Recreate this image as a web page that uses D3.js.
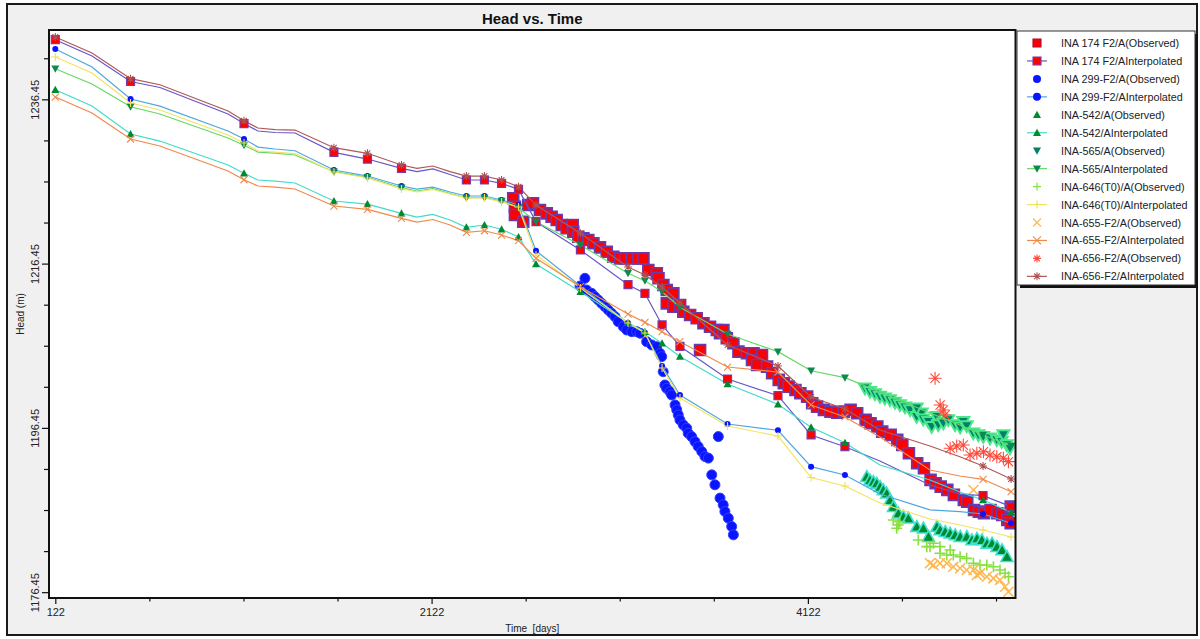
<!DOCTYPE html>
<html>
<head>
<meta charset="utf-8">
<script src="https://cdn.jsdelivr.net/npm/d3@7"></script>
<style>
  body { margin: 0; background: #fff; }
  svg { display: block; }
  text { font-family: Arial, "Liberation Sans", sans-serif; }
</style>
</head>
<body>
<div id="chart"></div>
<script>
// ---- data (days, head in m) ----
const lineDays = [122, 317, 522, 678, 1040, 1125, 1199, 1290, 1396, 1603, 1781, 1962, 2044, 2129, 2220, 2307, 2403, 2494, 2584, 2677, 2913, 3166, 3256, 3347, 3442, 3695, 3963, 4139, 4319, 4505, 4771, 4930, 5053, 5202];
const markerDays = [122, 522, 1125, 1603, 1781, 1962, 2307, 2403, 2494, 2584, 2677, 2913, 3166, 3256, 3347, 3442, 3695, 3963, 4139, 4319, 5053, 5202];

const ina174Interp = [1243.71, 1241.72, 1238.62, 1237.89, 1234.66, 1233.50, 1232.59, 1232.41, 1232.35, 1230.00, 1229.18, 1228.05, 1227.66, 1227.97, 1227.30, 1226.63, 1226.63, 1226.22, 1225.49, 1221.55, 1218.11, 1213.88, 1212.83, 1208.98, 1206.38, 1202.40, 1200.37, 1195.59, 1194.16, 1192.42, 1189.50, 1188.40, 1188.20, 1186.86];
const ina299Interp = [1242.57, 1240.38, 1236.49, 1235.63, 1232.59, 1231.62, 1230.64, 1230.40, 1230.19, 1227.84, 1227.11, 1225.90, 1225.53, 1225.77, 1225.17, 1224.68, 1224.68, 1224.19, 1223.58, 1218.02, 1213.72, 1209.22, 1208.04, 1203.98, 1200.45, 1196.92, 1196.16, 1191.73, 1190.72, 1188.40, 1186.46, 1186.25, 1185.97, 1184.84];
const ina542Interp = [1237.62, 1235.63, 1232.23, 1231.37, 1228.45, 1227.44, 1226.63, 1226.50, 1226.26, 1224.07, 1223.70, 1222.57, 1222.12, 1222.43, 1221.76, 1220.87, 1221.15, 1220.63, 1219.69, 1216.40, 1213.03, 1209.26, 1208.16, 1206.75, 1205.14, 1201.79, 1199.32, 1196.52, 1194.65, 1191.93, 1190.11, 1188.65, 1187.67, 1186.18];
const ina565Interp = [1240.17, 1238.31, 1235.55, 1234.66, 1231.74, 1230.85, 1230.03, 1229.91, 1229.67, 1227.64, 1226.96, 1225.69, 1225.29, 1225.59, 1224.98, 1224.47, 1224.47, 1224.07, 1223.25, 1221.55, 1218.71, 1215.27, 1214.37, 1213.03, 1211.13, 1207.88, 1205.73, 1203.41, 1202.56, 1200.82, 1198.26, 1196.80, 1195.59, 1194.25];
const ina646Interp = [1241.60, 1239.65, 1236.00, 1235.15, 1232.10, 1231.13, 1230.16, 1230.03, 1229.85, 1227.60, 1226.87, 1225.53, 1225.17, 1225.47, 1224.92, 1224.44, 1224.44, 1223.95, 1223.34, 1217.50, 1213.48, 1209.22, 1208.00, 1203.74, 1200.09, 1196.68, 1195.46, 1190.41, 1189.38, 1187.31, 1185.36, 1184.63, 1184.02, 1183.17];
const ina655Interp = [1236.73, 1234.78, 1231.62, 1230.77, 1227.72, 1226.66, 1225.90, 1225.77, 1225.53, 1223.46, 1223.06, 1221.96, 1221.51, 1221.82, 1221.15, 1220.26, 1220.45, 1219.93, 1219.24, 1217.09, 1213.64, 1210.31, 1209.30, 1208.16, 1206.94, 1203.86, 1203.25, 1199.24, 1197.78, 1195.34, 1191.32, 1190.59, 1190.19, 1188.68];
const ina656Interp = [1244.03, 1242.09, 1238.96, 1238.23, 1235.03, 1233.84, 1232.96, 1232.77, 1232.71, 1230.56, 1229.88, 1228.45, 1228.05, 1228.33, 1227.64, 1227.11, 1227.11, 1226.63, 1225.81, 1223.58, 1220.14, 1216.04, 1215.06, 1213.60, 1211.65, 1206.54, 1203.98, 1200.21, 1198.75, 1196.19, 1194.25, 1192.94, 1191.81, 1190.23];

const ina174Obs = [[2556,1224.40],[2565,1223.37],[2565,1222.36],[2609,1221.55],[2636,1223.58],[2661,1223.79],[2698,1222.97],[2734,1222.57],[2760,1222.16],[2787,1221.76],[2814,1221.15],[2840,1220.75],[2872,1221.15],[2875,1220.33],[2902,1219.72],[2929,1219.53],[2955,1219.32],[2982,1218.92],[3017,1218.43],[3053,1217.90],[3088,1217.29],[3124,1217.09],[3151,1217.09],[3186,1217.09],[3221,1217.09],[3248,1217.09],[3274,1215.67],[3319,1215.27],[3328,1214.66],[3354,1213.84],[3372,1213.23],[3407,1212.83],[3372,1211.61],[3407,1211.20],[3443,1211.41],[3460,1210.59],[3496,1210.19],[3531,1209.79],[3549,1205.93],[3567,1209.18],[3602,1208.77],[3638,1208.37],[3655,1207.97],[3673,1208.37],[3691,1207.36],[3726,1206.75],[3753,1205.73],[3798,1205.53],[3833,1205.53],[3878,1205.33],[3825,1204.72],[3852,1204.11],[3905,1203.91],[3932,1203.10],[3967,1202.29],[3994,1201.88],[4020,1201.47],[4056,1201.07],[4082,1200.67],[4118,1200.26],[4145,1199.45],[4171,1199.04],[4207,1198.64],[4242,1198.43],[4278,1198.31],[4313,1198.43],[4349,1198.64],[4384,1198.24],[4429,1197.43],[4455,1197.02],[4491,1196.61],[4517,1196.00],[4562,1195.60],[4597,1194.99],[4624,1194.38],[4659,1193.37],[4703,1192.15],[4739,1191.54],[4774,1190.12],[4801,1189.71],[4828,1189.30],[4863,1188.90],[4898,1188.29],[4951,1187.67],[4969,1187.47],[5005,1186.46],[5031,1186.25],[5058,1186.06],[5093,1186.46],[5129,1186.06],[5155,1185.85],[5182,1185.24],[5200,1184.84],[5200,1186.86]];
const ina299Obs = [[2937,1214.66],[2911,1213.72],[2946,1213.23],[2973,1212.83],[2990,1212.42],[3008,1212.02],[3026,1211.61],[3044,1211.20],[3061,1210.80],[3079,1210.40],[3097,1209.99],[3114,1209.38],[3141,1208.77],[3159,1208.37],[3186,1208.16],[3212,1208.16],[3230,1207.97],[3265,1206.95],[3292,1206.55],[3318,1206.34],[3336,1205.53],[3345,1205.12],[3353,1203.29],[3362,1201.67],[3371,1201.27],[3389,1200.86],[3398,1200.46],[3416,1199.24],[3425,1198.64],[3433,1198.03],[3442,1197.42],[3460,1196.81],[3478,1196.41],[3486,1195.80],[3504,1195.39],[3522,1194.78],[3539,1194.18],[3558,1193.57],[3575,1192.96],[3593,1192.77],[3611,1190.73],[3628,1189.52],[3655,1187.90],[3672,1187.08],[3681,1186.27],[3699,1185.46],[3717,1184.44],[3726,1183.43],[3646,1195.39]];
const ina542Obs = [[4435,1190.51],[4452,1190.11],[4470,1189.90],[4488,1189.70],[4506,1189.29],[4523,1188.89],[4541,1188.49],[4559,1187.67],[4577,1186.86],[4603,1186.06],[4630,1185.64],[4656,1185.45],[4701,1184.43],[4736,1184.23],[4763,1183.21],[4808,1184.43],[4825,1184.03],[4852,1183.82],[4878,1183.62],[4905,1183.42],[4932,1183.21],[4967,1183.21],[4994,1182.81],[5021,1183.01],[5047,1182.81],[5074,1182.40],[5101,1182.40],[5127,1181.99],[5154,1181.59],[5180,1180.77]];
const ina565Obs = [[4425,1201.27],[4452,1200.85],[4478,1200.57],[4505,1200.25],[4531,1200.05],[4558,1199.84],[4585,1199.52],[4611,1199.24],[4638,1198.96],[4665,1198.63],[4700,1197.81],[4727,1198.22],[4700,1198.83],[4735,1197.49],[4762,1197.20],[4780,1196.59],[4806,1197.81],[4815,1196.80],[4842,1197.01],[4868,1197.41],[4904,1196.80],[4931,1196.52],[4948,1197.20],[4966,1196.68],[5001,1195.79],[5028,1195.58],[5054,1195.38],[5090,1195.18],[5126,1194.97],[5152,1194.77],[5161,1195.58],[5179,1194.37],[5196,1193.97]];
const ina646Obs = [[4576,1185.24],[4602,1184.63],[4611,1185.03],[4594,1184.23],[4709,1182.80],[4754,1181.99],[4771,1181.99],[4789,1182.40],[4824,1181.99],[4824,1181.18],[4860,1180.98],[4878,1181.58],[4895,1180.98],[4931,1180.77],[4966,1180.57],[5002,1179.96],[5037,1179.76],[5073,1179.76],[5108,1179.55],[5143,1179.15],[5170,1178.75],[5188,1178.33]];
const ina655Obs = [[4771,1179.97],[4789,1179.76],[4824,1179.97],[4860,1179.97],[4895,1179.55],[4931,1179.36],[4966,1179.15],[5002,1179.15],[5020,1178.54],[5037,1178.74],[5073,1178.33],[5108,1178.13],[5143,1177.93],[5170,1177.11],[5188,1176.50],[5002,1188.89]];
const ina656Obs = [[4798,1202.49],[4825,1199.24],[4842,1198.63],[4851,1198.02],[4878,1193.97],[4913,1194.25],[4948,1194.37],[4984,1193.15],[5020,1193.36],[5055,1193.55],[5090,1193.15],[5126,1192.94],[5161,1192.75],[5188,1192.34]];

const xMajorTicks = [122, 2122, 4122];
const xMinorTicks = [622, 1122, 1622, 2622, 3122, 3622, 4622, 5122];
const yMajorTicks = [1176.45, 1196.45, 1216.45, 1236.45];
const yMinorTicks = [1181.45, 1186.45, 1191.45, 1201.45, 1206.45, 1211.45, 1221.45, 1226.45, 1231.45, 1241.45];

// ---- series styling ----
const series = [
  { label: 'INA 174 F2/A', obs: ina174Obs, interp: ina174Interp, shape: 'square', obsSize: 11, obsFill: '#ff0000', obsStroke: '#6a3bb0', obsSw: 1.6, line: '#6656c8', mkSize: 8, mkFill: '#ff0000', mkStroke: '#7a3aa8' },
  { label: 'INA 299-F2/A', obs: ina299Obs, interp: ina299Interp, shape: 'circle', obsSize: 10, obsFill: '#0a14ff', obsStroke: '#3040ff', obsSw: 1, line: '#4fa6e0', mkSize: 6, mkFill: '#0a14ff', mkStroke: 'none' },
  { label: 'INA-542/A', obs: ina542Obs, interp: ina542Interp, shape: 'triUp', obsSize: 12, obsFill: '#008a2e', obsStroke: '#40e0d0', obsSw: 1.6, line: '#40dcc8', mkSize: 8, mkFill: '#008a2e', mkStroke: 'none' },
  { label: 'INA-565/A', obs: ina565Obs, interp: ina565Interp, shape: 'triDown', obsSize: 12, obsFill: '#00806a', obsStroke: '#48e88a', obsSw: 2, line: '#66d866', mkSize: 8, mkFill: '#0c8a50', mkStroke: 'none' },
  { label: 'INA-646(T0)/A', obs: ina646Obs, interp: ina646Interp, shape: 'plus', obsSize: 11, obsFill: 'none', obsStroke: '#88e040', obsSw: 1.6, line: '#f2e460', mkSize: 8, mkFill: 'none', mkStroke: '#f0e050' },
  { label: 'INA-655-F2/A', obs: ina655Obs, interp: ina655Interp, shape: 'cross', obsSize: 10, obsFill: 'none', obsStroke: '#ffb850', obsSw: 1.6, line: '#f08a4a', mkSize: 7, mkFill: 'none', mkStroke: '#f08a4a' },
  { label: 'INA-656-F2/A', obs: ina656Obs, interp: ina656Interp, shape: 'star', obsSize: 13, obsFill: 'none', obsStroke: '#ff4a3a', obsSw: 1.1, line: '#b05858', mkSize: 8, mkFill: 'none', mkStroke: '#b05050' }
];

function symbolPath(shape, s) {
  const r = s / 2;
  switch (shape) {
    case 'square': return `M${-r},${-r}h${s}v${s}h${-s}Z`;
    case 'circle': return d3.symbol(d3.symbolCircle, Math.PI * r * r)();
    case 'triUp': return `M0,${-r}L${r},${r * 0.8}L${-r},${r * 0.8}Z`;
    case 'triDown': return `M0,${r}L${r},${-r * 0.8}L${-r},${-r * 0.8}Z`;
    case 'plus': return `M${-r},0H${r}M0,${-r}V${r}`;
    case 'cross': return `M${-r},${-r}L${r},${r}M${-r},${r}L${r},${-r}`;
    case 'star': {
      const k = r * 0.71;
      return `M${-r},0H${r}M0,${-r}V${r}M${-k},${-k}L${k},${k}M${-k},${k}L${k},${-k}`;
    }
  }
}
const lineShape = s => ['plus', 'cross', 'star'].includes(s);

// ---- layout ----
const plot = { left: 49, top: 30, right: 1015.5, bottom: 598 };
const x = d3.scaleLinear().domain([88.5, 5225.5]).range([plot.left, plot.right]);
const y = d3.scaleLinear().domain([1175.74, 1244.89]).range([plot.bottom, plot.top]);

const svg = d3.select('#chart').append('svg').attr('width', 1200).attr('height', 639);

svg.append('rect').attr('x', 7).attr('y', 4).attr('width', 1190).attr('height', 631)
  .attr('fill', '#f0f0f0').attr('stroke', '#1a1a1a').attr('stroke-width', 2);

svg.append('rect').attr('x', plot.left).attr('y', plot.top)
  .attr('width', plot.right - plot.left).attr('height', plot.bottom - plot.top)
  .attr('fill', '#fff');

svg.append('text').attr('x', (plot.left + plot.right) / 2).attr('y', 24)
  .attr('text-anchor', 'middle').attr('font-size', 15).attr('font-weight', 'bold')
  .attr('fill', '#111').text('Head vs. Time');

// axes
const yMajor = svg.append('g').attr('transform', `translate(${plot.left},0)`)
  .call(d3.axisLeft(y).tickValues(yMajorTicks).tickSize(7).tickFormat(d3.format('.2f')));
yMajor.selectAll('text')
  .attr('x', null).attr('dy', null).attr('text-anchor', 'middle')
  .attr('transform', 'translate(-10.5,0) rotate(-90)')
  .attr('font-size', 11).attr('fill', '#222');
svg.append('g').attr('transform', `translate(${plot.left},0)`)
  .call(d3.axisLeft(y).tickValues(yMinorTicks).tickSize(5).tickFormat(''));

const xMajor = svg.append('g').attr('transform', `translate(0,${plot.bottom})`)
  .call(d3.axisBottom(x).tickValues(xMajorTicks).tickSize(6).tickFormat(d3.format('d')));
xMajor.selectAll('text').attr('y', 10).attr('font-size', 11).attr('fill', '#222');
svg.append('g').attr('transform', `translate(0,${plot.bottom})`)
  .call(d3.axisBottom(x).tickValues(xMinorTicks).tickSize(3.5).tickFormat(''));

svg.selectAll('.domain').remove();
svg.selectAll('.tick line').attr('stroke', '#111').attr('stroke-width', 1.2);

svg.append('text').attr('x', (plot.left + plot.right) / 2).attr('y', 632)
  .attr('text-anchor', 'middle').attr('font-size', 10).attr('fill', '#222')
  .attr('xml:space', 'preserve').text('Time  [days]');
svg.append('text').attr('transform', `translate(24,${(plot.top + plot.bottom) / 2}) rotate(-90)`)
  .attr('text-anchor', 'middle').attr('font-size', 10).attr('fill', '#222').text('Head (m)');

// data layer
svg.append('clipPath').attr('id', 'clip').append('rect')
  .attr('x', plot.left).attr('y', plot.top)
  .attr('width', plot.right - plot.left).attr('height', plot.bottom - plot.top);
const data = svg.append('g').attr('clip-path', 'url(#clip)');

function drawMarkers(g, pts, shape, size, fill, stroke, sw) {
  g.selectAll(null).data(pts).enter().append('path')
    .attr('transform', d => `translate(${x(d[0])},${y(d[1])})`)
    .attr('d', symbolPath(shape, size))
    .attr('fill', lineShape(shape) ? 'none' : fill)
    .attr('stroke', stroke)
    .attr('stroke-width', sw);
}

// observed points first, lines and their markers on top
series.forEach(s => {
  drawMarkers(data.append('g'), s.obs, s.shape, s.obsSize, s.obsFill, s.obsStroke, s.obsSw);
});

const lineGen = d3.line().x(d => x(d[0])).y(d => y(d[1]));
series.forEach(s => {
  const pts = lineDays.map((d, i) => [d, s.interp[i]]);
  data.append('path').datum(pts).attr('d', lineGen)
    .attr('fill', 'none').attr('stroke', s.line).attr('stroke-width', 1.2);
});
series.forEach(s => {
  const pts = markerDays.map(d => [d, s.interp[lineDays.indexOf(d)]]);
  drawMarkers(data.append('g'), pts, s.shape, s.mkSize, s.mkFill, s.mkStroke, lineShape(s.shape) ? 1.1 : 1.2);
});

svg.append('rect').attr('x', plot.left).attr('y', plot.top)
  .attr('width', plot.right - plot.left).attr('height', plot.bottom - plot.top)
  .attr('fill', 'none').attr('stroke', '#111').attr('stroke-width', 2);

// legend
const lg = { x: 1017, y: 31, w: 178, h: 254, row: 17.95 };
svg.append('rect').attr('x', lg.x + 3).attr('y', lg.y + 3).attr('width', lg.w).attr('height', lg.h).attr('fill', '#111');
svg.append('rect').attr('x', lg.x).attr('y', lg.y).attr('width', lg.w).attr('height', lg.h)
  .attr('fill', '#fff').attr('stroke', '#333').attr('stroke-width', 1);

function drawLegendMarker(g, cx, cy, shape, size, fill, stroke) {
  g.append('path').attr('transform', `translate(${cx},${cy})`)
    .attr('d', symbolPath(shape, size))
    .attr('fill', lineShape(shape) ? 'none' : fill)
    .attr('stroke', stroke).attr('stroke-width', 1.1);
}

series.forEach((s, i) => {
  const y0 = lg.y + 12 + (2 * i) * lg.row;
  const y1 = y0 + lg.row;
  drawLegendMarker(svg.append('g'), 1037, y0, s.shape, 8, lineShape(s.shape) ? s.obsStroke : s.obsFill,
    s.shape === 'square' ? '#a01030' : lineShape(s.shape) ? s.obsStroke : 'none');
  svg.append('line').attr('x1', 1027).attr('x2', 1047).attr('y1', y1).attr('y2', y1)
    .attr('stroke', s.line).attr('stroke-width', 1.2);
  drawLegendMarker(svg.append('g'), 1037, y1, s.shape, 8, lineShape(s.shape) ? s.mkStroke : s.mkFill,
    lineShape(s.shape) ? s.mkStroke : (s.shape === 'square' ? s.mkStroke : 'none'));
  svg.append('text').attr('x', 1061).attr('y', y0 + 4).attr('font-size', 10.8).attr('fill', '#222')
    .text(s.label + '(Observed)');
  svg.append('text').attr('x', 1061).attr('y', y1 + 4).attr('font-size', 10.8).attr('fill', '#222')
    .text(s.label + 'Interpolated');
});
</script>
</body>
</html>
